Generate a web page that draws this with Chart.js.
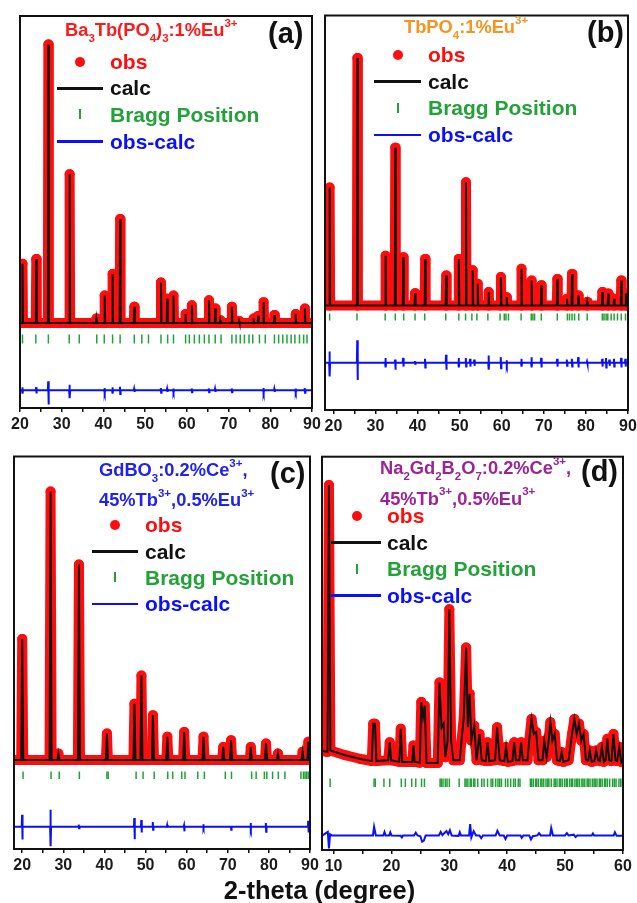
<!DOCTYPE html>
<html>
<head>
<meta charset="utf-8">
<script src="https://cdn.jsdelivr.net/npm/chart.js@4.4.0/dist/chart.umd.min.js"></script>
<style>
  body { margin: 0; width: 637px; height: 903px; position: relative; overflow: hidden; background: #fff;
         font-family: "Liberation Sans", Arial, sans-serif; font-weight: bold; }
  canvas { position: absolute; }
  .t { position: absolute; white-space: nowrap; }
  .t sub, .t sup { font-size: 0.63em; line-height: 0; vertical-align: baseline; position: relative; }
  .t sub { top: 0.5em; }
  .t sup { top: -0.8em; }
  .sym { position: absolute; }
</style>
</head>
<body>
<canvas id="pa" width="316" height="428" style="left:8px;top:10px"></canvas>
<canvas id="pb" width="327" height="430" style="left:313px;top:10px"></canvas>
<canvas id="pc" width="320" height="428" style="left:2px;top:451px"></canvas>
<canvas id="pd" width="325" height="429" style="left:310px;top:451px"></canvas>
<script>
// intensities are in units of the panel height (0 = frame bottom, 100 = frame top)

// x-axis tick values (labels on the multiples of ten)
var ticks2090 = [20, 25, 30, 35, 40, 45, 50, 55, 60, 65, 70, 75, 80, 85, 90];
var ticks1060 = [10, 15, 20, 25, 30, 35, 40, 45, 50, 55, 60];

// (a) Ba3Tb(PO4)3:1%Eu3+
var aPeakPos = [20.6, 23.9, 26.8, 31.9, 38.3, 40.3, 42.2, 44.0, 47.4, 53.8, 55.3, 56.8, 59.7, 61.2, 65.3, 66.8, 68.0, 70.8, 72.5, 76.0, 77.1, 78.4, 81.0, 86.1, 88.3];
var aPeakTop = [36.8, 38.0, 92.7, 59.6, 22.8, 28.7, 34.2, 48.2, 25.8, 32.0, 27.9, 28.7, 24.0, 26.2, 27.5, 25.4, 22.4, 25.8, 22.2, 22.8, 23.5, 27.0, 23.7, 24.0, 25.4];
var aBase = 21.7;
var aBragg = [20.6, 23.8, 26.8, 31.8, 34.2, 38.4, 40.2, 42.2, 44.0, 47.4, 49.2, 50.8, 53.8, 55.4, 56.8, 59.7, 60.6, 61.8, 63.0, 64.2, 65.3, 66.8, 68.2, 70.8, 71.8, 72.8, 73.8, 74.9, 75.8, 77.4, 78.8, 81.0, 82.0, 83.0, 84.0, 85.0, 85.9, 87.0, 88.0, 88.8];
var aDiffPos  = [20.6, 23.9, 26.8, 31.9, 40.3, 42.2, 44.0, 47.4, 53.8, 55.3, 56.8, 61.2, 65.3, 66.8, 70.8, 78.4, 81.0, 86.1, 88.3];
var aDiffUp   = [0.8, 0.8, 2.3, 1.4, 0.6, 0.8, 0.9, 0.4, 0.6, 0.4, 0.5, 0.5, 0.5, 0.4, 0.5, 0.6, 0.4, 0.5, 0.6];
var aDiffDown = [0.8, 0.8, 3.6, 2.0, 0.6, 0.8, 0.9, 0.4, 0.6, 0.4, 0.5, 0.5, 0.5, 0.4, 0.5, 0.6, 0.4, 0.5, 0.6];
var aDiffBase = 4.5;

// (b) TbPO4:1%Eu3+
var bPeakPos = [19.1, 25.7, 32.4, 34.7, 36.6, 39.4, 41.8, 46.8, 49.8, 51.5, 53.1, 54.3, 56.9, 59.8, 61.2, 64.7, 67.1, 69.4, 73.2, 75.5, 76.7, 78.2, 80.3, 83.9, 85.3, 86.7, 88.4, 89.5];
var bPeakTop = [56.4, 89.2, 39.1, 66.5, 38.7, 29.6, 38.3, 34.1, 38.3, 57.7, 35.4, 32.0, 29.9, 33.7, 28.6, 35.8, 32.8, 31.6, 33.2, 28.2, 34.5, 29.0, 27.4, 29.9, 29.5, 28.2, 32.8, 29.5];
var bBase = 26.5;
var bBragg = [19.1, 25.6, 32.3, 34.7, 36.7, 39.4, 41.7, 46.7, 49.8, 51.4, 52.9, 54.1, 56.7, 59.6, 60.6, 61.0, 61.6, 64.6, 67.0, 67.4, 67.8, 69.4, 73.2, 75.6, 76.1, 76.7, 77.3, 78.3, 80.3, 83.9, 84.3, 84.8, 85.2, 86.0, 86.7, 87.5, 88.4, 89.4];
var bDiffPos  = [19.1, 25.7, 32.4, 34.7, 36.6, 39.4, 41.8, 46.8, 49.8, 51.5, 52.5, 53.5, 56.9, 59.8, 61.2, 64.7, 67.1, 69.4, 73.2, 75.5, 76.7, 78.2, 80.3, 83.9, 84.8, 85.6, 86.7, 88.4, 89.4];
var bDiffUp   = [2.8, 5.7, 1.2, 0.8, 1.2, 0.4, 1.0, 2.0, 1.2, 1.2, 1.0, 0.8, 1.8, 1.4, 0.6, 1.0, 1.4, 1.2, 1.0, 0.8, 1.0, 1.4, 0.3, 1.0, 1.2, 0.8, 1.0, 1.2, 1.0];
var bDiffDown = [3.5, 4.4, 1.2, 1.8, 1.0, 0.3, 1.2, 1.8, 1.2, 1.0, 1.0, 0.8, 1.8, 1.4, 0.6, 1.0, 1.2, 1.2, 1.0, 0.8, 1.0, 1.2, 0.3, 1.0, 1.2, 0.8, 1.0, 1.2, 1.0];
var bDiffBase = 12;

// (c) GdBO3:0.2%Ce3+,45%Tb3+,0.5%Eu3+
var cPeakPos = [20.0, 26.9, 28.8, 33.8, 40.6, 47.3, 49.0, 51.8, 55.3, 59.4, 64.1, 68.9, 70.8, 75.6, 79.3, 82.2, 88.2, 89.6];
var cPeakTop = [53.5, 91.1, 24.3, 72.5, 29.4, 37.0, 44.2, 34.1, 28.6, 29.8, 28.6, 26.0, 27.7, 26.0, 26.9, 24.3, 24.8, 27.3];
var cBase = 22.7;
var cBragg = [20.2, 27.0, 29.0, 33.9, 40.6, 40.9, 47.7, 49.4, 52.1, 55.4, 56.6, 58.8, 59.6, 62.7, 64.3, 69.4, 70.9, 75.8, 76.9, 78.9, 79.5, 80.9, 82.3, 83.9, 87.8, 88.4, 88.8, 89.2, 89.6];
var cDiffPos  = [20.0, 26.9, 33.8, 47.3, 49.0, 51.8, 55.3, 59.4, 64.1, 70.8, 75.6, 79.3, 89.6];
var cDiffUp   = [3.0, 4.3, 0.5, 2.2, 1.7, 1.2, 0.4, 0.3, 0.6, 0.2, 0.9, 0.9, 1.5];
var cDiffDown = [3.3, 5.0, 0.4, 3.2, 1.5, 0.8, 0.3, 1.2, 0.4, 0.8, 0.6, 1.3, 1.5];
var cDiffBase = 5.7;

// (d) Na2Gd2B2O7:0.2%Ce3+,45%Tb3+,0.5%Eu3+
var dCalcX = [8.1, 8.95, 9.2, 9.45, 12.0, 14.5, 16.6, 16.85, 17.15, 17.4, 19.45, 19.7, 19.95, 21.35, 21.6, 21.85, 23.6, 23.8, 24.0, 24.9, 25.15, 25.45, 25.75, 26.05, 28.0, 28.3, 28.65, 29.0, 29.3, 29.7, 30.0, 30.3, 30.7, 31.8, 32.1, 32.5, 32.9, 33.2, 33.5, 33.8, 34.3, 34.7, 35.2, 35.6, 36.3, 36.6, 36.9, 37.9, 38.25, 38.7, 39.5, 39.8, 40.1, 40.9, 41.2, 41.5, 42.1, 42.4, 42.7, 43.5, 43.8, 44.2, 44.6, 45.0, 45.4, 46.1, 46.4, 46.8, 47.1, 47.45, 47.8, 48.2, 48.6, 49.1, 49.4, 49.7, 50.6, 51.2, 51.6, 52.0, 52.4, 52.8, 53.2, 53.6, 54.0, 54.25, 54.6, 55.05, 55.35, 55.7, 56.0, 56.35, 56.7, 57.0, 57.3, 57.6, 58.0, 58.35, 58.7, 59.0, 59.35, 59.7, 60.0];
var dCalcY = [25.2, 24.9, 92.8, 25.3, 24.1, 23.2, 22.6, 32.1, 32.1, 22.6, 22.8, 27.4, 22.8, 22.4, 30.8, 22.4, 22.4, 26.6, 22.4, 22.2, 37.6, 33.8, 36.7, 22.1, 22.1, 42.6, 31.2, 32.1, 23.6, 27.8, 61.2, 27.8, 22.8, 22.8, 27.8, 33.8, 51.5, 31.2, 39.7, 27.8, 31.6, 22.8, 29.5, 22.8, 22.6, 27.4, 22.6, 22.8, 31.2, 22.8, 22.6, 26.2, 22.4, 22.6, 27.4, 22.8, 22.8, 27.4, 22.8, 22.8, 27.8, 33.3, 29.5, 30.0, 22.8, 22.8, 27.8, 23.6, 27.0, 32.5, 27.8, 29.5, 22.8, 22.6, 24.9, 22.4, 22.8, 29.5, 33.3, 29.5, 32.1, 27.8, 29.5, 22.8, 22.8, 25.3, 22.4, 22.6, 25.3, 22.8, 22.6, 26.2, 22.4, 22.8, 28.3, 22.8, 22.6, 29.5, 22.8, 22.6, 26.2, 22.4, 23.2];
var dBragg = [9.4, 17.0, 17.2, 18.7, 19.7, 21.7, 22.4, 23.5, 24.2, 25.2, 25.7, 28.4, 28.6, 28.9, 29.3, 29.6, 30.0, 31.7, 32.7, 32.9, 33.2, 33.6, 33.8, 34.2, 34.4, 34.9, 35.6, 36.0, 36.6, 37.2, 37.5, 38.0, 38.4, 38.7, 39.0, 39.7, 40.1, 40.6, 41.1, 41.4, 41.9, 42.2, 44.0, 44.2, 44.5, 44.9, 45.1, 45.4, 45.8, 46.0, 46.3, 46.7, 47.0, 47.2, 47.6, 48.1, 48.3, 48.6, 49.0, 49.2, 49.5, 49.9, 50.2, 50.4, 50.8, 51.1, 51.3, 51.7, 52.0, 52.2, 52.5, 52.9, 53.1, 53.4, 53.8, 54.0, 54.3, 54.7, 55.0, 55.2, 55.5, 55.9, 56.1, 56.4, 56.8, 57.0, 57.3, 57.7, 58.2, 58.5, 58.8, 59.3, 59.6, 59.9];
var dDiffX = [8.1, 9.0, 9.2, 9.4, 9.7, 16.8, 17.0, 17.3, 18.6, 18.8, 19.0, 19.6, 19.8, 20.0, 21.6, 21.8, 22.0, 23.9, 24.2, 24.5, 25.0, 25.3, 25.6, 25.9, 28.2, 28.5, 28.8, 29.5, 29.8, 30.1, 30.4, 31.6, 31.8, 32.0, 33.4, 33.6, 33.8, 34.2, 34.6, 35.2, 35.5, 35.8, 38.0, 38.3, 38.7, 39.4, 39.7, 40.0, 42.3, 42.5, 42.8, 43.8, 44.1, 44.4, 45.2, 45.5, 45.8, 47.4, 47.6, 47.9, 50.0, 50.3, 50.6, 51.5, 51.8, 52.1, 54.6, 54.8, 55.0, 58.4, 58.6, 58.9, 60.0];
var dDiffY = [3.7, 4.6, 0.4, 4.0, 3.7, 3.7, 5.9, 3.7, 3.7, 4.6, 3.7, 3.7, 4.5, 3.7, 3.6, 3.2, 3.7, 3.7, 4.4, 3.7, 3.5, 2.1, 2.4, 3.7, 3.7, 4.6, 3.8, 4.8, 4.0, 5.0, 3.7, 3.6, 4.5, 3.7, 3.7, 6.6, 3.2, 4.8, 3.7, 3.7, 3.0, 3.7, 3.7, 4.9, 3.7, 3.7, 2.8, 3.7, 3.7, 3.1, 3.7, 3.7, 2.7, 3.5, 3.7, 4.3, 3.7, 3.7, 5.6, 3.7, 3.7, 4.3, 3.7, 3.9, 3.3, 3.7, 3.7, 4.2, 3.7, 3.7, 4.5, 3.6, 3.6];

var FONT = '"Liberation Sans", Arial, sans-serif';
var RED = '#ff0d0d', BLACK = '#111111', GREEN = '#22a238', BLUE = '#0a10ff';

function peakProfile(pos, top, base, xmin, xmax, w) {
    var pts = [{x: xmin, y: base}];
    pos.forEach(function (p, i) {
        pts.push({x: p - w, y: base}, {x: p, y: top[i]}, {x: p + w, y: base});
    });
    pts.push({x: xmax, y: base});
    return pts;
}

function diffProfile(pos, up, down, base, xmin, xmax) {
    var pts = [{x: xmin, y: base}];
    pos.forEach(function (p, i) {
        pts.push({x: p - 0.12, y: base}, {x: p - 0.04, y: base + up[i]},
                 {x: p + 0.04, y: base - down[i]}, {x: p + 0.12, y: base});
    });
    pts.push({x: xmax, y: base});
    return pts;
}

function zip(xs, ys) {
    return xs.map(function (x, i) { return {x: x, y: ys[i]}; });
}

function tickRow(pos, level) {
    return pos.map(function (p) { return {x: p, y: level}; });
}

var framePlugin = {
    id: 'frame',
    afterDatasetsDraw: function (chart) {
        var a = chart.chartArea, ctx = chart.ctx;
        ctx.save();
        ctx.strokeStyle = BLACK;
        ctx.lineWidth = 2;
        ctx.strokeRect(a.left, a.top, a.right - a.left, a.bottom - a.top);
        ctx.restore();
    }
};

function makePanel(id, xmin, xmax, tickVals, profile, bragg, braggR, diff) {
    return new Chart(document.getElementById(id).getContext('2d'), {
        type: 'line',
        data: {
            datasets: [{
                label: 'calc',
                data: profile,
                borderColor: BLACK,
                borderWidth: 2,
                pointRadius: 0,
                order: 1
            }, {
                label: 'obs',
                data: profile,
                borderColor: RED,
                borderWidth: 10,
                borderJoinStyle: 'round',
                borderCapStyle: 'round',
                pointRadius: 5,
                pointBorderWidth: 0,
                pointBackgroundColor: RED,
                order: 2
            }, {
                label: 'Bragg Position',
                data: bragg,
                showLine: false,
                pointStyle: 'line',
                rotation: 90,
                pointRadius: braggR,
                borderColor: GREEN,
                borderWidth: 1.5,
                order: 3
            }, {
                label: 'obs-calc',
                data: diff,
                borderColor: BLUE,
                borderWidth: 2,
                pointRadius: 0,
                order: 4
            }]
        },
        options: {
            responsive: false,
            animation: false,
            events: [],
            layout: { padding: { left: 12, right: 12, top: 4, bottom: 0 } },
            plugins: { legend: { display: false }, tooltip: { enabled: false } },
            scales: {
                x: {
                    type: 'linear',
                    min: xmin,
                    max: xmax,
                    afterBuildTicks: function (s) {
                        s.ticks = tickVals.map(function (v) { return {value: v}; });
                    },
                    afterFit: function (s) { s.height = 30; },
                    ticks: {
                        autoSkip: false,
                        maxRotation: 0,
                        padding: 3,
                        color: '#1a1a1a',
                        font: { family: FONT, size: 16, weight: 'bold' },
                        callback: function (v) { return v % 10 === 0 ? String(v) : ''; }
                    },
                    grid: { drawOnChartArea: false, drawTicks: true, tickLength: 4, color: BLACK, lineWidth: 1.5 },
                    border: { display: false }
                },
                y: { min: 0, max: 100, display: false }
            }
        },
        plugins: [framePlugin]
    });
}

makePanel('pa', 20, 90, ticks2090, peakProfile(aPeakPos, aPeakTop, aBase, 20, 90, 0.12),
    tickRow(aBragg, 17.6), 4.5, diffProfile(aDiffPos, aDiffUp, aDiffDown, aDiffBase, 20, 90));
makePanel('pb', 18, 90, ticks2090, peakProfile(bPeakPos, bPeakTop, bBase, 18, 90, 0.12),
    tickRow(bBragg, 23.6), 3.5, diffProfile(bDiffPos, bDiffUp, bDiffDown, bDiffBase, 18, 90));
makePanel('pc', 18, 90, ticks2090, peakProfile(cPeakPos, cPeakTop, cBase, 18, 90, 0.25),
    tickRow(cBragg, 18.8), 3.8, diffProfile(cDiffPos, cDiffUp, cDiffDown, cDiffBase, 18, 90));
makePanel('pd', 8, 60, ticks1060, zip(dCalcX, dCalcY),
    tickRow(dBragg, 17.1), 4.2, zip(dDiffX, dDiffY));

// ---- text and legend keys ----
function text(x, baseline, size, color, html) {
    var d = document.createElement('div');
    d.className = 't';
    d.style.left = x + 'px';
    d.style.top = (baseline - 0.8465 * size) + 'px';
    d.style.fontSize = size + 'px';
    d.style.lineHeight = size + 'px';
    d.style.color = color;
    d.innerHTML = html;
    document.body.appendChild(d);
}

function box(x, y, w, h, color, round) {
    var d = document.createElement('div');
    d.className = 'sym';
    d.style.left = x + 'px';
    d.style.top = y + 'px';
    d.style.width = w + 'px';
    d.style.height = h + 'px';
    d.style.background = color;
    if (round) d.style.borderRadius = '50%';
    document.body.appendChild(d);
}

function legend(sx, lx1, lx2, tx, baselines) {
    var b = baselines;
    box(sx - 5, b[0] - 11.5, 10, 10, RED, true);
    text(tx, b[0], 21, RED, 'obs');
    box(lx1, b[1] - 8, lx2 - lx1, 2.5, BLACK);
    text(tx, b[1], 21, BLACK, 'calc');
    box(sx - 0.75, b[2] - 12.5, 1.5, 10, GREEN);
    text(tx, b[2], 21, GREEN, 'Bragg Position');
    box(lx1, b[3] - 8, lx2 - lx1, 2.5, BLUE);
    text(tx, b[3], 21, BLUE, 'obs-calc');
}

var TS = 18.3;
text(65, 36.7, TS, '#ff1a1a', 'Ba<sub>3</sub>Tb(PO<sub>4</sub>)<sub>3</sub>:1%Eu<sup>3+</sup>');
text(268, 44, 29, BLACK, '(a)');
legend(80, 57, 103, 110, [68.3, 95, 121.7, 148.3]);

text(404, 33.3, TS, '#f7931e', 'TbPO<sub>4</sub>:1%Eu<sup>3+</sup>');
text(587, 42.3, 29, BLACK, '(b)');
legend(398, 374, 421, 428, [61.7, 88.3, 115, 141.7]);

text(99, 476.7, TS, '#1f22f0', 'GdBO<sub>3</sub>:0.2%Ce<sup>3+</sup>,');
text(99, 506.7, TS, '#1f22f0', '45%Tb<sup>3+</sup>,0.5%Eu<sup>3+</sup>');
text(270, 484, 29, BLACK, '(c)');
legend(115, 92, 138, 145, [531.7, 558.3, 584.3, 610.7]);

text(380, 474.3, TS, '#9c2497', 'Na<sub>2</sub>Gd<sub>2</sub>B<sub>2</sub>O<sub>7</sub>:0.2%Ce<sup>3+</sup>,');
text(380, 505, TS, '#9c2497', '45%Tb<sup>3+</sup>,0.5%Eu<sup>3+</sup>');
text(581, 482, 29, BLACK, '(d)');
legend(357, 331, 381, 387, [522.7, 549.3, 576, 602.3]);

var xt = document.createElement('div');
xt.className = 't';
xt.style.left = '1px';
xt.style.width = '637px';
xt.style.textAlign = 'center';
xt.style.fontSize = '25.5px';
xt.style.lineHeight = '25.5px';
xt.style.top = (900 - 0.8465 * 25.5) + 'px';
xt.style.color = BLACK;
xt.textContent = '2-theta (degree)';
document.body.appendChild(xt);
</script>
</body>
</html>
